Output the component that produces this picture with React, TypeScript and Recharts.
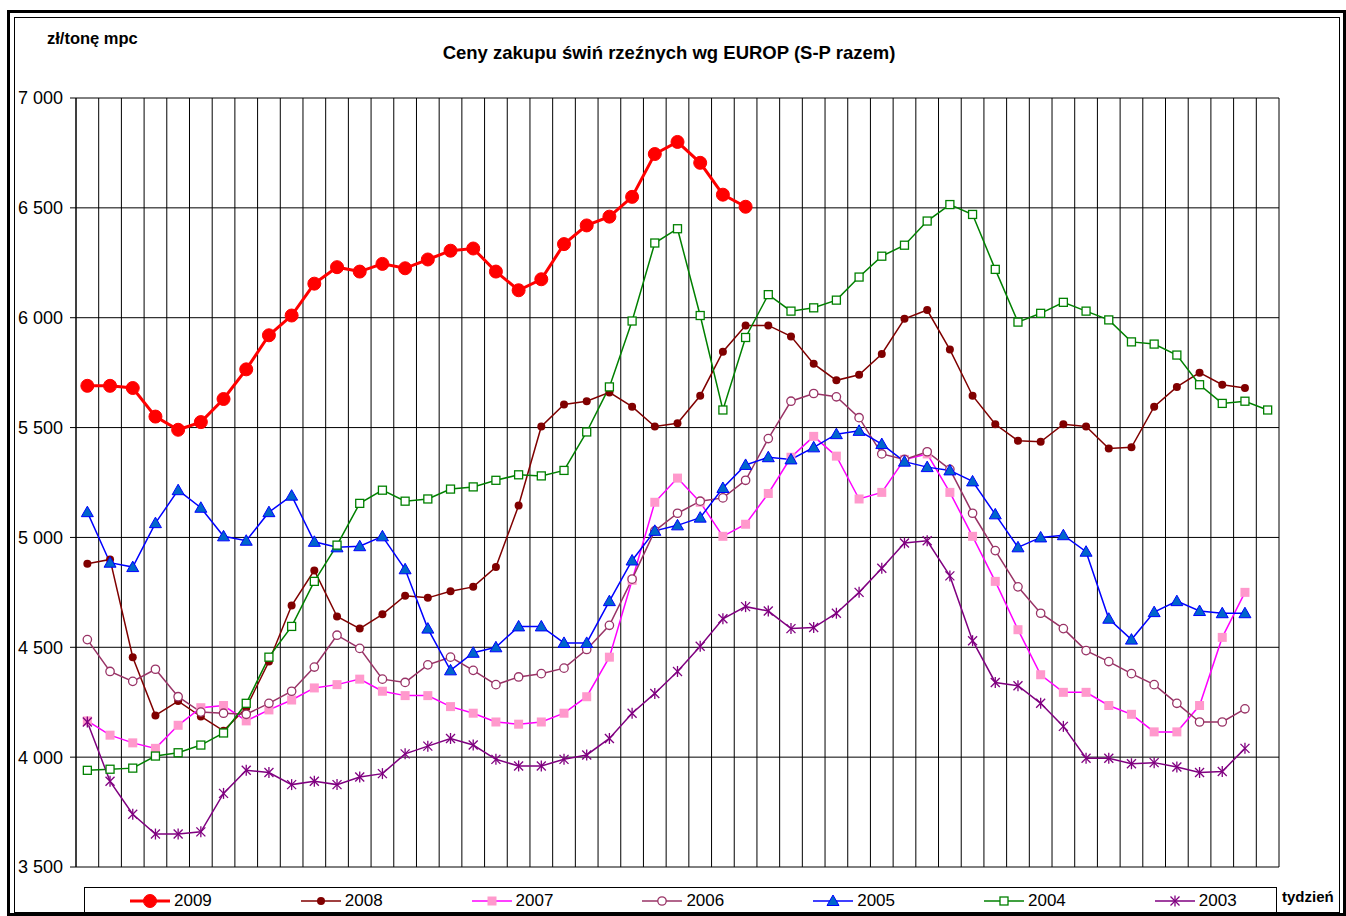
import { LineChart, Line, XAxis, YAxis, CartesianGrid } from "recharts";

// tydzień (week) numbers
const weeks = [
  1, 2, 3, 4, 5, 6, 7, 8, 9, 10, 11, 12, 13, 14, 15, 16, 17, 18, 19, 20, 21, 22, 23, 24, 25, 26,
  27, 28, 29, 30, 31, 32, 33, 34, 35, 36, 37, 38, 39, 40, 41, 42, 43, 44, 45, 46, 47, 48, 49, 50,
  51, 52, 53,
];

// zł/tonę mpc
const y2009 = [
  5690, 5690, 5680, 5550, 5490, 5525, 5630, 5765, 5920, 6010, 6155, 6230, 6210, 6245, 6225, 6265,
  6305, 6315, 6210, 6125, 6175, 6335, 6420, 6460, 6550, 6745, 6800, 6705, 6560, 6505,
];
const y2008 = [
  4880, 4900, 4455, 4190, 4255, 4185, 4120, 4225, 4435, 4690, 4850, 4640, 4585, 4650, 4735, 4725,
  4755, 4775, 4865, 5145, 5505, 5605, 5620, 5660, 5595, 5505, 5520, 5645, 5845, 5965, 5965, 5915,
  5790, 5715, 5740, 5835, 5995, 6035, 5855, 5645, 5515, 5440, 5435, 5515, 5505, 5405, 5410, 5595,
  5685, 5750, 5695, 5680,
];
const y2007 = [
  4165, 4100, 4065, 4040, 4145, 4225, 4235, 4165, 4215, 4260, 4315, 4330, 4355, 4300, 4280, 4280,
  4230, 4200, 4160, 4150, 4160, 4200, 4275, 4455, 4805, 5160, 5270, 5160, 5005, 5060, 5200, 5365,
  5460, 5370, 5175, 5205, 5355, 5380, 5205, 5005, 4800, 4580, 4375, 4295, 4295, 4235, 4195, 4115,
  4115, 4235, 4545, 4750,
];
const y2006 = [
  4535, 4390, 4345, 4400, 4275, 4205, 4200, 4195, 4245, 4300, 4410, 4555, 4495, 4355, 4340, 4420,
  4455, 4395, 4330, 4365, 4380, 4405, 4490, 4600, 4810, 5030, 5110, 5165, 5180, 5260, 5450, 5620,
  5655, 5640, 5545, 5380, 5355, 5390, 5310, 5110, 4940, 4775, 4655, 4585, 4485, 4435, 4380, 4330,
  4245, 4160, 4160, 4220,
];
const y2005 = [
  5115, 4885, 4865, 5065, 5215, 5135, 5005, 4985, 5115, 5190, 4980, 4955, 4960, 5005, 4855, 4585,
  4395, 4475, 4500, 4595, 4595, 4520, 4520, 4710, 4895, 5030, 5055, 5090, 5225, 5330, 5365, 5355,
  5410, 5470, 5485, 5425, 5345, 5320, 5305, 5255, 5105, 4955, 5000, 5010, 4935, 4630, 4535, 4660,
  4710, 4665, 4655, 4655,
];
const y2004 = [
  3940, 3945, 3950, 4005, 4020, 4055, 4110, 4245, 4455, 4595, 4800, 4965, 5155, 5215, 5165, 5175,
  5220, 5230, 5260, 5285, 5280, 5305, 5480, 5685, 5985, 6340, 6405, 6010, 5580, 5910, 6105, 6030,
  6045, 6080, 6185, 6280, 6330, 6440, 6515, 6470, 6220, 5980, 6020, 6070, 6030, 5990, 5890, 5880,
  5830, 5695, 5610, 5620, 5580,
];
const y2003 = [
  4160, 3890, 3740, 3650, 3650, 3660, 3835, 3940, 3930, 3875, 3890, 3875, 3910, 3925, 4015, 4050,
  4085, 4055, 3990, 3960, 3960, 3990, 4010, 4085, 4200, 4290, 4390, 4505, 4630, 4685, 4665, 4585,
  4590, 4655, 4750, 4860, 4975, 4985, 4825, 4530, 4340, 4325, 4245, 4140, 3995, 3995, 3970, 3975,
  3955, 3930, 3935, 4040,
];

const yTicks = [3500, 4000, 4500, 5000, 5500, 6000, 6500, 7000];

type Shape = "bigCircle" | "dot" | "square" | "ring" | "triangle" | "openSquare" | "star";

const series: { key: string; name: string; values: number[]; color: string; width: number; shape: Shape }[] = [
  { key: "y2009", name: "2009", values: y2009, color: "#FF0000", width: 3, shape: "bigCircle" },
  { key: "y2008", name: "2008", values: y2008, color: "#800000", width: 1.5, shape: "dot" },
  { key: "y2007", name: "2007", values: y2007, color: "#FF00FF", width: 1.5, shape: "square" },
  { key: "y2006", name: "2006", values: y2006, color: "#993366", width: 1.5, shape: "ring" },
  { key: "y2005", name: "2005", values: y2005, color: "#0000FF", width: 1.5, shape: "triangle" },
  { key: "y2004", name: "2004", values: y2004, color: "#008000", width: 1.5, shape: "openSquare" },
  { key: "y2003", name: "2003", values: y2003, color: "#800080", width: 1.5, shape: "star" },
];

const data = weeks.map((week, i) => {
  const row: Record<string, number | undefined> = { week };
  series.forEach((s) => {
    row[s.key] = s.values[i];
  });
  return row;
});

// grid lines sit between the weeks
const gridTicks = [0, ...weeks].map((w) => w + 0.5);

const FONT = '"Liberation Sans", Arial, sans-serif';

function Marker({ shape, cx, cy, color }: { shape: Shape; cx: number; cy: number; color: string }) {
  switch (shape) {
    case "bigCircle":
      return <circle cx={cx} cy={cy} r={6.5} fill={color} stroke={color} />;
    case "dot":
      return <circle cx={cx} cy={cy} r={4} fill={color} />;
    case "square":
      return <rect x={cx - 4.5} y={cy - 4.5} width={9} height={9} fill="#FF99CC" />;
    case "ring":
      return <circle cx={cx} cy={cy} r={4.2} fill="#fff" stroke={color} strokeWidth={1.3} />;
    case "triangle":
      return (
        <polygon
          points={`${cx},${cy - 6} ${cx - 6},${cy + 4.5} ${cx + 6},${cy + 4.5}`}
          fill="#0066CC"
          stroke="#0000FF"
          strokeWidth={1}
        />
      );
    case "openSquare":
      return <rect x={cx - 4} y={cy - 4} width={8} height={8} fill="#fff" stroke={color} strokeWidth={1.3} />;
    case "star":
      return (
        <g stroke={color} strokeWidth={1.3}>
          <line x1={cx - 4.5} y1={cy - 4.5} x2={cx + 4.5} y2={cy + 4.5} />
          <line x1={cx - 4.5} y1={cy + 4.5} x2={cx + 4.5} y2={cy - 4.5} />
          <line x1={cx} y1={cy - 5.5} x2={cx} y2={cy + 5.5} />
        </g>
      );
  }
}

const fmt = (v: number) => String(v).replace(/\B(?=(\d{3})+(?!\d))/g, " ");

export default function App() {
  return (
    <div style={{ position: "absolute", left: 0, top: 0, width: 1346, height: 916, background: "#fff", fontFamily: FONT }}>
      {/* double frame */}
      <div style={{ position: "absolute", left: 7, top: 10, width: 1339, height: 906, border: "3px solid #000", boxSizing: "border-box" }} />
      <div style={{ position: "absolute", left: 14, top: 17, width: 1326, height: 896, border: "1px solid #000", boxSizing: "border-box" }} />

      <div style={{ position: "absolute", left: 47, top: 29, fontSize: 16.5, fontWeight: "bold", whiteSpace: "nowrap" }}>zł/tonę mpc</div>
      <div style={{ position: "absolute", left: 369, top: 42, width: 600, textAlign: "center", fontSize: 18.5, fontWeight: "bold", whiteSpace: "nowrap" }}>
        Ceny zakupu świń rzeźnych wg EUROP (S-P razem)
      </div>

      <div style={{ position: "absolute", left: 0, top: 0 }}>
        <LineChart width={1346} height={916} data={data} margin={{ top: 98, right: 67, bottom: 49, left: 16 }}>
          <CartesianGrid stroke="#000" strokeWidth={1} horizontal vertical />
          <XAxis dataKey="week" type="number" domain={[0.5, 53.5]} ticks={gridTicks} interval={0} hide allowDataOverflow />
          <YAxis
            width={60}
            domain={[3500, 7000]}
            ticks={yTicks}
            tickFormatter={fmt}
            interval={0}
            allowDataOverflow
            axisLine={{ stroke: "#000" }}
            tickLine={{ stroke: "#000" }}
            tickSize={6}
            tickMargin={7}
            tick={{ fill: "#000", fontSize: 18, fontFamily: FONT }}
          />
          {series.map((s) => (
            <Line
              key={s.key}
              dataKey={s.key}
              name={s.name}
              stroke={s.color}
              strokeWidth={s.width}
              type="linear"
              isAnimationActive={false}
              dot={(p: any) =>
                p.cx == null || p.cy == null || p.value == null ? (
                  <g key={p.key} />
                ) : (
                  <g key={p.key}>
                    <Marker shape={s.shape} cx={p.cx} cy={p.cy} color={s.color} />
                  </g>
                )
              }
              activeDot={false}
            />
          ))}
        </LineChart>
      </div>

      {/* legend */}
      <div style={{ position: "absolute", left: 84, top: 887, width: 1193, height: 27, border: "1px solid #000", borderBottom: "none", boxSizing: "border-box" }} />
      {series.map((s, k) => (
        <div key={s.key} style={{ position: "absolute", left: 130 + k * 170.8, top: 889, height: 24, display: "flex", alignItems: "center" }}>
          <svg width={40} height={20}>
            <line x1={0} y1={10} x2={40} y2={10} stroke={s.color} strokeWidth={s.width} />
            <Marker shape={s.shape} cx={20} cy={10} color={s.color} />
          </svg>
          <span style={{ marginLeft: 4, fontSize: 17 }}>{s.name}</span>
        </div>
      ))}
      <div style={{ position: "absolute", left: 1282, top: 888, fontSize: 15, fontWeight: "bold" }}>tydzień</div>
    </div>
  );
}
